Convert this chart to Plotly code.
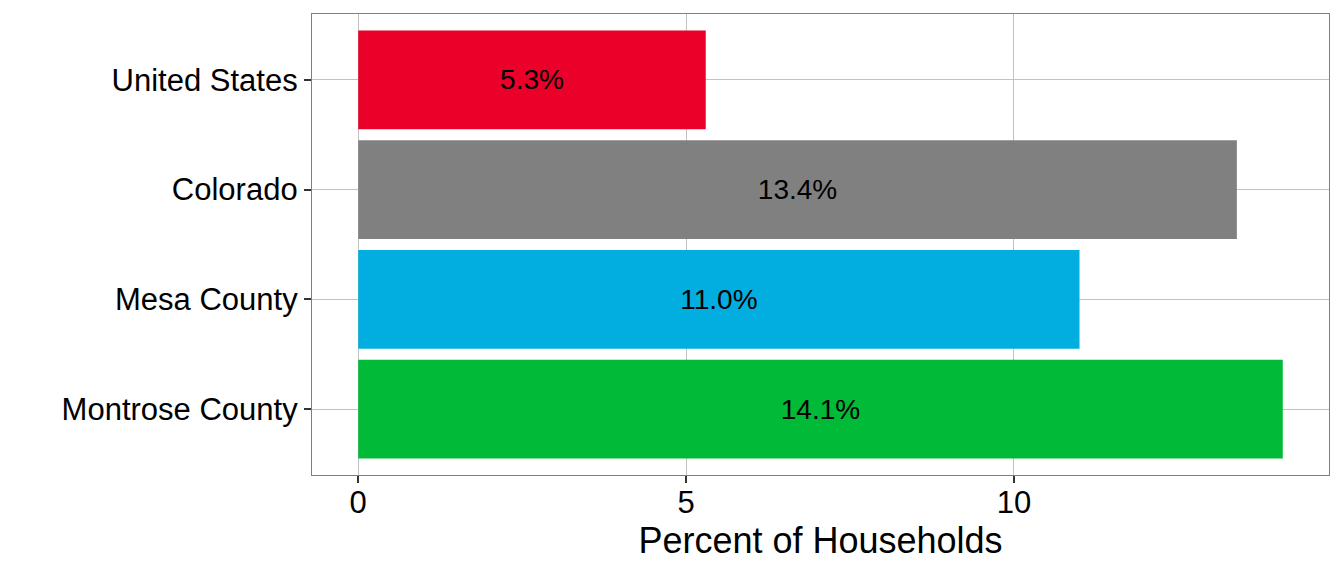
import plotly.graph_objects as go

categories = ["Montrose County", "Mesa County", "Colorado", "United States"]
values = [14.1, 11.0, 13.4, 5.3]
labels = ["14.1%", "11.0%", "13.4%", "5.3%"]
colors = ["#00BA38", "#02AEDF", "#808080", "#EA0029"]
x_ticks = [0, 5, 10]

fig = go.Figure(go.Bar(
    x=values, y=categories, orientation="h",
    marker=dict(color=colors, line=dict(width=0)),
    width=0.9,
    text=labels, textposition="inside", insidetextanchor="middle",
    textfont=dict(family="Liberation Sans, Arial", size=28, color="black"),
    constraintext="none", cliponaxis=False, hoverinfo="skip",
))

xmax = max(values)
pad = xmax * 0.05
# page body has an 8px margin; compensate so the panel lands at x 312-1329, y 14-475
fig.update_layout(
    width=1344, height=576,
    margin=dict(l=304, r=23, t=6, b=109),
    paper_bgcolor="white", plot_bgcolor="white",
    font=dict(family="Liberation Sans, Arial", color="black"),
    showlegend=False,
    bargap=0.1,
)
fig.update_xaxes(
    range=[-pad, xmax + pad], tickvals=x_ticks, ticktext=[str(t) for t in x_ticks],
    showgrid=True, gridcolor="#C2C2C2", gridwidth=1.2, zeroline=False,
    showline=True, linecolor="#7F7F7F", linewidth=1.3, mirror=True,
    ticks="outside", ticklen=7, tickwidth=1.5, tickcolor="#333333",
    tickfont=dict(size=31, color="black"), ticklabelstandoff=-7,
    title=dict(text="Percent of Households", font=dict(size=36, color="black"), standoff=2),
)
fig.update_yaxes(
    type="category", categoryorder="array", categoryarray=categories,
    range=[-0.6, len(categories) - 0.4],
    showgrid=True, gridcolor="#C2C2C2", gridwidth=1.2, zeroline=False,
    showline=True, linecolor="#7F7F7F", linewidth=1.3, mirror=True,
    ticks="outside", ticklen=7, tickwidth=1.5, tickcolor="#333333",
    tickfont=dict(size=31, color="black"),
)

fig.write_html("out.html")
